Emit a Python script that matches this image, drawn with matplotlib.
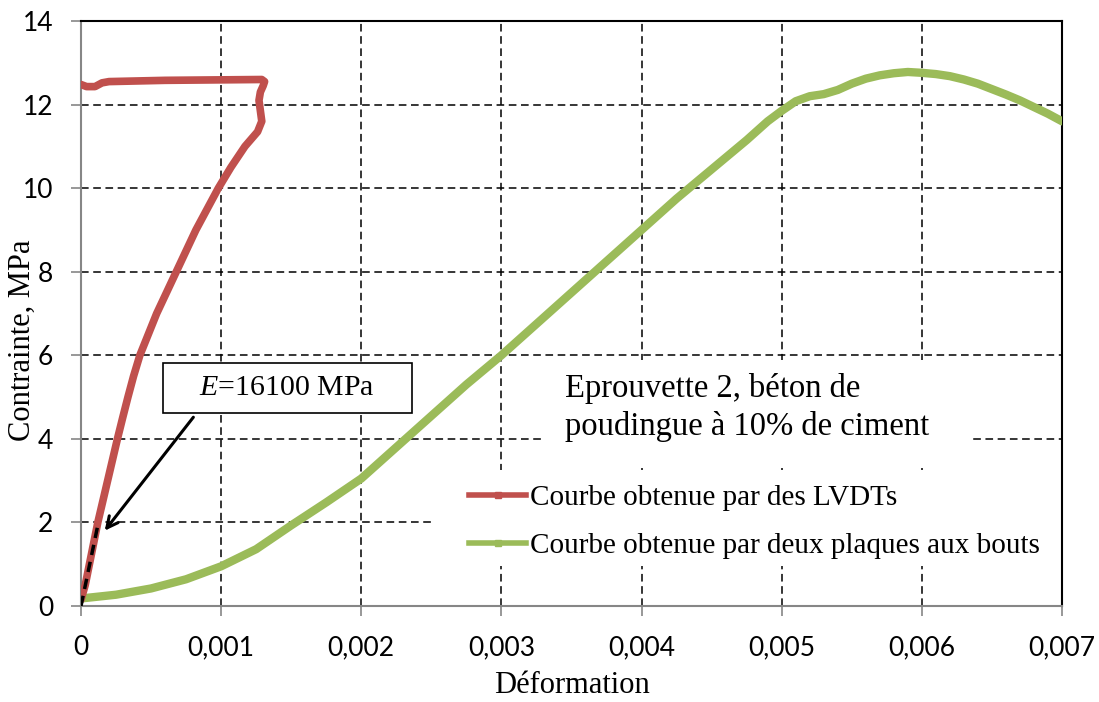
import matplotlib
matplotlib.use("Agg")
import matplotlib.pyplot as plt
from matplotlib.lines import Line2D
from matplotlib.patches import Rectangle

# courbe LVDTs (montee, palier vertical, retour horizontal)
lvdt_def = [0, 0.00003, 0.00006, 0.00009, 0.00012, 0.000155, 0.00019,
            0.000225, 0.00026, 0.000297, 0.000335, 0.000375, 0.00042,
            0.00048, 0.00054, 0.00061, 0.00068, 0.00075, 0.00082, 0.0009,
            0.00098, 0.00107, 0.00117, 0.00126, 0.00129, 0.00128, 0.00127,
            0.00128, 0.0013, 0.00131, 0.00129, 0.0006, 0.0002, 0.00015,
            0.0001, 0.00004, 0]
lvdt_sig = [0.15, 0.5, 1.0, 1.5, 2.0, 2.5, 3.0,
            3.5, 4.0, 4.5, 5.0, 5.5, 6.0,
            6.5, 7.0, 7.5, 8.0, 8.5, 9.0, 9.5,
            10.0, 10.5, 11.0, 11.35, 11.6, 11.85, 12.1,
            12.3, 12.45, 12.55, 12.6, 12.58, 12.55, 12.52,
            12.43, 12.43, 12.48]

# courbe plaques
plq_def = [0, 0.00025, 0.0005, 0.00075, 0.001, 0.00125, 0.0015, 0.00175,
           0.002, 0.00225, 0.0025, 0.00275, 0.003, 0.00325, 0.0035, 0.00375,
           0.004, 0.00425, 0.0045, 0.00475, 0.0049, 0.005, 0.0051, 0.0052,
           0.0053, 0.0054, 0.0055, 0.0056, 0.0057, 0.0058, 0.0059, 0.006,
           0.0061, 0.0062, 0.0063, 0.0064, 0.0065, 0.0066, 0.0067, 0.0068,
           0.0069, 0.007]
plq_sig = [0.18, 0.27, 0.42, 0.64, 0.95, 1.36, 1.93, 2.48,
           3.05, 3.8, 4.55, 5.3, 6.0, 6.75, 7.5, 8.25,
           9.0, 9.75, 10.45, 11.15, 11.6, 11.85, 12.08, 12.2,
           12.25, 12.35, 12.5, 12.62, 12.7, 12.75, 12.78, 12.76,
           12.73, 12.68, 12.6, 12.5, 12.37, 12.24, 12.1, 11.94,
           11.78, 11.6]

# module E
e_def = [0, 0.000118]
e_sig = [0, 1.9]

x_ticks = [0, 0.001, 0.002, 0.003, 0.004, 0.005, 0.006, 0.007]
x_labels = ["0", "0,001", "0,002", "0,003", "0,004", "0,005", "0,006", "0,007"]
y_ticks = [0, 2, 4, 6, 8, 10, 12, 14]

red = "#C0504D"
green = "#9BBB59"
serif = "Liberation Serif"
sans = "Lato"

plt.rcParams["mathtext.fontset"] = "custom"
plt.rcParams["mathtext.it"] = serif + ":italic"
plt.rcParams["mathtext.rm"] = serif

fig = plt.figure(figsize=(10.99, 7.02), dpi=100)
ax = fig.add_axes([81 / 1099, 1 - 606 / 702, 981 / 1099, 585 / 702])

ax.plot(plq_def, plq_sig, color=green, lw=6, solid_joinstyle="round",
        solid_capstyle="round", zorder=3)
ax.plot(lvdt_def, lvdt_sig, color=red, lw=5.5, solid_joinstyle="round",
        solid_capstyle="round", zorder=4)
ax.plot(e_def, e_sig, color="black", lw=2.5, dashes=(3, 2), zorder=5)

ax.set_xlim(0, 0.007)
ax.set_ylim(0, 14)
ax.set_xticks(x_ticks)
ax.set_xticklabels(x_labels)
ax.set_yticks(y_ticks)

ax.grid(True, color="black", linestyle=(0, (5, 3)), lw=1.1, zorder=1)
ax.set_axisbelow(True)

for s in ["left", "bottom"]:
    ax.spines[s].set_color("#868686")
    ax.spines[s].set_linewidth(1.5)
for s in ["top", "right"]:
    ax.spines[s].set_color("black")
    ax.spines[s].set_linewidth(1.5)

ax.tick_params(axis="both", direction="out", length=7, width=1.2,
               color="#868686", labelsize=19)
ax.tick_params(axis="y", pad=13)
ax.tick_params(axis="x", pad=14)
for lab in ax.get_xticklabels() + ax.get_yticklabels():
    lab.set_family(sans)

ax.set_xlabel("Déformation", family=serif, fontsize=22, labelpad=8)
ax.set_ylabel("Contrainte, MPa", family=serif, fontsize=22)
ax.yaxis.set_label_coords(-0.045, 0.455)

# fonds blancs
ax.add_patch(Rectangle((0.473, 0.236), 0.433, 0.185, transform=ax.transAxes,
                       facecolor="white", edgecolor="none", zorder=2))
ax.add_patch(Rectangle((0.358, 0.068), 0.642, 0.165, transform=ax.transAxes,
                       facecolor="white", edgecolor="none", zorder=2))

ax.text(0.493, 0.371, "Eprouvette 2, béton de", transform=ax.transAxes,
        family=serif, fontsize=23.5, va="center", zorder=6)
ax.text(0.493, 0.306, "poudingue à 10% de ciment", transform=ax.transAxes,
        family=serif, fontsize=23.5, va="center", zorder=6)

# boite E
ax.add_patch(Rectangle((0.0836, 0.330), 0.2538, 0.085, transform=ax.transAxes,
                       facecolor="white", edgecolor="black", lw=1.2, zorder=6))
ax.text(0.21, 0.372, "$E$=16100 MPa", transform=ax.transAxes, family=serif,
        fontsize=21.5, ha="center", va="center", zorder=7)
ax.annotate("", xy=(0.000157, 1.75), xytext=(0.000814, 4.57),
            arrowprops=dict(arrowstyle="->,head_length=0.8,head_width=0.4",
                            color="black", lw=2.2), zorder=7)

handles = [
    Line2D([], [], color=red, lw=4, marker="s", markersize=4),
    Line2D([], [], color=green, lw=4, marker="s", markersize=4),
]
leg = ax.legend(handles, ["Courbe obtenue par des LVDTs",
                          "Courbe obtenue par deux plaques aux bouts"],
                loc="center left", bbox_to_anchor=(0.384, 0.144),
                frameon=False, handlelength=1.95, handletextpad=0.12,
                labelspacing=0.75, borderaxespad=0,
                prop={"family": serif, "size": 21})
leg.set_zorder(8)

fig.savefig("out.png", dpi=100)
